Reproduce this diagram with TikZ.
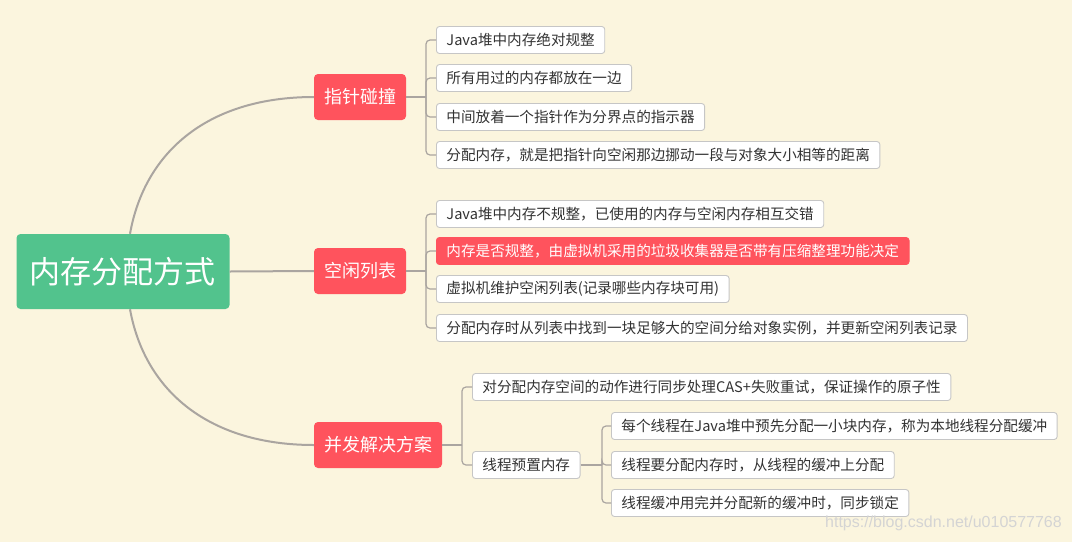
\documentclass[tikz,border=0pt]{standalone}
\usepackage{fontspec}
\setmainfont{Noto Sans CJK SC}
\newfontfamily\wmfont{Liberation Sans}
\definecolor{bgcream}{RGB}{251,245,222}
\definecolor{rootgreen}{RGB}{82,195,141}
\definecolor{topicred}{RGB}{255,83,93}
\definecolor{linegray}{RGB}{170,165,160}
\definecolor{boxgray}{RGB}{198,198,198}
\definecolor{textgray}{RGB}{51,51,51}
\usetikzlibrary{calc}

\tikzset{
  rootbox/.style={fill=rootgreen, text=white, rounded corners=4pt, font=\fontsize{31}{31}\selectfont, minimum height=75pt, inner xsep=13.5pt, inner ysep=0pt},
  topicbox/.style={fill=topicred, text=white, rounded corners=4pt, font=\fontsize{18}{18}\selectfont, minimum height=46pt, inner xsep=10pt, inner ysep=0pt},
  leafbox/.style={draw=boxgray, fill=white, text=textgray, rounded corners=3pt, font=\fontsize{14.6}{14.6}\selectfont, minimum height=27pt, inner xsep=10pt, inner ysep=0pt, anchor=west, line width=0.9pt},
  hotleaf/.style={leafbox, draw=topicred, fill=topicred, text=white},
  trunk/.style={draw=linegray, line width=2pt},
  branch/.style={draw=linegray, line width=1.2pt},
}

\begin{document}
\begin{tikzpicture}[x=1pt, y=-1pt]
  \fill[bgcream] (0,0) rectangle (1072,542);
  \useasboundingbox (0,0) rectangle (1072,542);

  % root and main topics
  \node[rootbox] (root) at (123,271.5) {内存分配方式};
  \node[topicbox] (t1) at (360,97) {指针碰撞};
  \node[topicbox] (t2) at (360,271) {空闲列表};
  \node[topicbox] (t3) at (378,445) {并发解决方案};

  \draw[trunk] ([xshift=7pt]root.north) .. controls (145,150) and (210,97) .. (t1.west);
  \draw[trunk] (root.east) -- (t2.west);
  \draw[trunk] ([xshift=7pt]root.south) .. controls (145,392) and (210,445) .. (t3.west);

  % pointer bump
  \foreach \i/\y/\txt in {1/40/{Java堆中内存绝对规整}, 2/78/{所有用过的内存都放在一边},
      3/117/{中间放着一个指针作为分界点的指示器}, 4/155/{分配内存，就是把指针向空闲那边挪动一段与对象大小相等的距离}} {
    \node[leafbox] (a\i) at (436,\y) {\txt};
  }
  \coordinate (j1) at (426,97);
  \draw[branch] (t1.east) -- (j1);
  \foreach \i in {1,...,4} \draw[branch, rounded corners=4pt] (j1) |- (a\i.west);

  % free list
  \foreach \i/\y/\sty/\txt in {1/214/leafbox/{Java堆中内存不规整，已使用的内存与空闲内存相互交错},
      2/251/hotleaf/{内存是否规整，由虚拟机采用的垃圾收集器是否带有压缩整理功能决定},
      3/289/leafbox/{虚拟机维护空闲列表(记录哪些内存块可用)},
      4/328/leafbox/{分配内存时从列表中找到一块足够大的空间分给对象实例，并更新空闲列表记录}} {
    \node[\sty] (b\i) at (436,\y) {\txt};
  }
  \coordinate (j2) at (426,271);
  \draw[branch] (t2.east) -- (j2);
  \foreach \i in {1,...,4} \draw[branch, rounded corners=4pt] (j2) |- (b\i.west);

  % concurrency
  \node[leafbox] (c1) at (472,387) {对分配内存空间的动作进行同步处理CAS+失败重试，保证操作的原子性};
  \node[leafbox] (c2) at (472,465) {线程预置内存};
  \coordinate (j3) at (462,445);
  \draw[branch] (t3.east) -- (j3);
  \foreach \i in {1,2} \draw[branch, rounded corners=4pt] (j3) |- (c\i.west);

  \foreach \i/\y/\txt in {1/426/{每个线程在Java堆中预先分配一小块内存，称为本地线程分配缓冲},
      2/465/{线程要分配内存时，从线程的缓冲上分配}, 3/503/{线程缓冲用完并分配新的缓冲时，同步锁定}} {
    \node[leafbox] (d\i) at (611,\y) {\txt};
  }
  \coordinate (j4) at (602,465);
  \draw[branch] (c2.east) -- (j4);
  \foreach \i in {1,...,3} \draw[branch, rounded corners=4pt] (j4) |- (d\i.west);

  \node[anchor=east, text=black!17, font=\wmfont\fontsize{16}{16}\selectfont, inner sep=0pt] (wm) at (1062,523) {https://blog.csdn.net/u010577768};
\end{tikzpicture}
\end{document}
